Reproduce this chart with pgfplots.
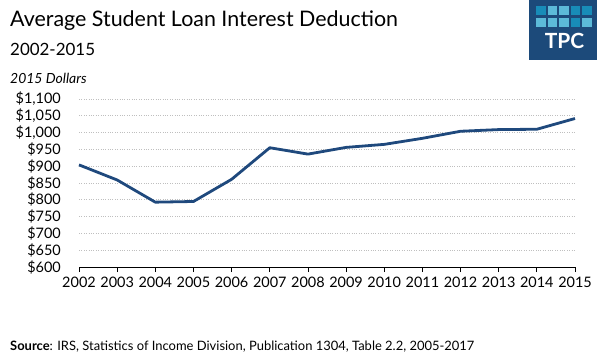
\documentclass[border=0pt]{standalone}
\usepackage{pgfplots}
\pgfplotsset{compat=1.18}
\usepackage{fontspec}
\setmainfont{Lato}
\definecolor{lineblue}{RGB}{31,73,125}
\definecolor{logoblue}{RGB}{28,74,122}
\definecolor{sqdark}{RGB}{24,140,184}
\definecolor{sqlight}{RGB}{92,186,216}
\begin{document}
\begin{tikzpicture}
\begin{scope}[x=1bp,y=1bp]
\path[use as bounding box] (0,0) rectangle (601,-363);
\node[anchor=base west, inner sep=0, font=\fontsize{21.5}{21.5}\selectfont] at (10,-26) {Average Student Loan Interest Deduction};
\node[anchor=base west, inner sep=0, font=\fontsize{17}{17}\selectfont] at (10,-55) {2002-2015};
\node[anchor=base west, inner sep=0, font=\fontsize{14}{14}\selectfont\itshape] at (10,-83) {2015 Dollars};
\node[anchor=base west, inner sep=0, font=\fontsize{13}{13}\selectfont] at (10,-350) {\textbf{Source}: IRS, Statistics of Income Division, Publication 1304, Table 2.2, 2005-2017};
% logo
\fill[logoblue] (529,0) rectangle (597,-60);
\foreach \i/\c in {0/sqdark,1/sqlight,2/sqlight,3/sqdark,4/sqdark}{
  \fill[\c] (536+11.5*\i,-6) rectangle (545.5+11.5*\i,-15);
}
\foreach \i/\c in {0/sqlight,1/sqlight,2/sqlight,3/sqdark,4/sqlight}{
  \fill[\c] (536+11.5*\i,-18) rectangle (545.5+11.5*\i,-27);
}
\node[anchor=base, inner sep=0, text=white, font=\fontsize{21}{21}\selectfont\bfseries] at (564.5,-48) {TPC};
\end{scope}
\begin{axis}[
  at={(79bp,-267bp)}, anchor=south west,
  scale only axis, width=496bp, height=168bp,
  xmin=2002, xmax=2015, ymin=600, ymax=1100,
  axis x line*=bottom, axis y line*=left,
  y axis line style={draw=none},
  x axis line style={black, line width=1bp, -},
  xtick={2002,2003,...,2015},
  ytick={600,650,...,1100},
  yticklabels={\$600,\$650,\$700,\$750,\$800,\$850,\$900,\$950,\$1{,}000,\$1{,}050,\$1{,}100},
  ytick style={draw=none},
  xtick style={black, line width=0.8bp},
  tick align=outside, major tick length=5bp,
  /pgf/number format/1000 sep={},
  /pgf/number format/assume math mode=true,
  ticklabel style={font=\fontsize{14.5}{14.5}\selectfont},
  yticklabel style={inner sep=0pt, xshift=-13bp},
  xticklabel style={inner sep=0pt, yshift=-5bp},
  ymajorgrids, grid style={dotted, black!25, line width=0.8bp},
  clip=false,
]
\addplot[lineblue, line width=2.8bp, line join=round] coordinates {
(2002,904) (2003,859) (2004,793) (2005,795) (2006,861) (2007,955) (2008,936)
(2009,956) (2010,965) (2011,983) (2012,1004) (2013,1009) (2014,1010) (2015,1042)};
\end{axis}
\end{tikzpicture}
\end{document}
